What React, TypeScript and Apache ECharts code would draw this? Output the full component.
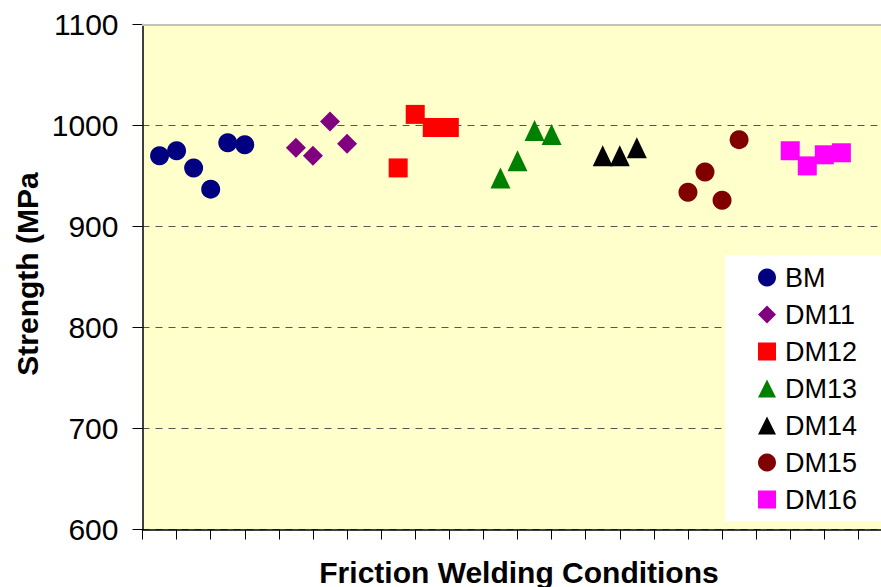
import React, { useEffect, useRef } from "react";
import * as echarts from "echarts";

const seriesNames = ["BM", "DM11", "DM12", "DM13", "DM14", "DM15", "DM16"];
const bmX = [1, 2, 3, 4, 5, 6];
const bmY = [970, 975, 958, 937, 983, 981];
const dm11X = [9, 10, 11, 12];
const dm11Y = [978, 970, 1004, 982];
const dm12X = [15, 16, 17, 18];
const dm12Y = [958, 1011, 998, 998];
const dm13X = [21, 22, 23, 24];
const dm13Y = [948, 965, 995, 991];
const dm14X = [27, 28, 29];
const dm14Y = [970, 970, 978];
const dm15X = [32, 33, 34, 35];
const dm15Y = [934, 954, 926, 986];
const dm16X = [38, 39, 40, 41];
const dm16Y = [975, 960, 971, 973];
const yTicks = [600, 700, 800, 900, 1000, 1100];

const colors = ["#000080", "#800080", "#FF0000", "#008000", "#000000", "#800000", "#FF00FF"];
const symbols = ["circle", "diamond", "rect", "triangle", "triangle", "circle", "rect"];
const sizes: any[] = [19, 20, 19, [20, 21], [20, 21], 19, 19];

const FONT = "'Liberation Sans', Arial, sans-serif";

export default function App() {
  const ref = useRef<HTMLDivElement>(null);
  useEffect(() => {
    if (!ref.current) return;
    const chart = echarts.init(ref.current, null, { renderer: "svg" });
    const xs = [bmX, dm11X, dm12X, dm13X, dm14X, dm15X, dm16X];
    const ys = [bmY, dm11Y, dm12Y, dm13Y, dm14Y, dm15Y, dm16Y];
    const series = seriesNames.map((name, i) => ({
      name,
      type: "scatter",
      symbol: symbols[i],
      symbolSize: sizes[i],
      itemStyle: { color: colors[i], opacity: 1 },
      data: xs[i].map((x, j) => [x, ys[i][j]]),
      xAxisIndex: 0,
      yAxisIndex: 0,
      z: 3,
    }));
    chart.setOption({
      animation: false,
      backgroundColor: "#ffffff",
      textStyle: { fontFamily: FONT },
      grid: {
        left: 142.5,
        top: 24.5,
        width: 750,
        height: 505,
        show: true,
        backgroundColor: "#FFFFCC",
        borderWidth: 0,
      },
      xAxis: [
        {
          type: "value",
          min: 0,
          max: 44,
          interval: 2,
          position: "bottom",
          axisLine: { show: true, lineStyle: { color: "#000", width: 1.5 } },
          axisTick: { show: true, inside: false, length: 10, lineStyle: { color: "#000", width: 1 } },
          axisLabel: { show: false },
          splitLine: { show: false },
          z: 4,
        },
        {
          type: "value",
          min: 0,
          max: 44,
          position: "top",
          axisLine: { show: true, onZero: false, lineStyle: { color: "#c0c0c0", width: 2 } },
          axisTick: { show: false },
          axisLabel: { show: false },
          splitLine: { show: false },
          z: 5,
        },
      ],
      yAxis: {
        type: "value",
        min: yTicks[0],
        max: yTicks[yTicks.length - 1],
        interval: 100,
        axisLine: { show: true, lineStyle: { color: "#000", width: 1.5 } },
        axisTick: { show: true, inside: false, length: 10, lineStyle: { color: "#000", width: 1 } },
        axisLabel: {
          show: true,
          color: "#000",
          fontSize: 30,
          fontFamily: FONT,
          margin: 24,
          formatter: (v: number) => String(v),
        },
        splitLine: { show: true, lineStyle: { color: "#555", width: 1, type: [7, 6] } },
        z: 2,
      },
      legend: {
        orient: "vertical",
        left: 725,
        top: 255,
        backgroundColor: "#ffffff",
        padding: [9, 300, 8, 33],
        itemWidth: 18,
        itemHeight: 18,
        itemGap: 10,
        data: seriesNames,
        textStyle: { color: "#000", fontSize: 27, lineHeight: 26, fontFamily: FONT, padding: [0, 0, 0, 4] },
        z: 6,
      },
      graphic: [
        {
          type: "text",
          x: 519,
          y: 572,
          style: {
            text: "Friction Welding Conditions",
            font: `bold 30px ${FONT}`,
            fill: "#000",
            align: "center",
            verticalAlign: "middle",
          },
        },
        {
          type: "text",
          x: 27,
          y: 274,
          rotation: Math.PI / 2,
          style: {
            text: "Strength (MPa",
            font: `bold 30px ${FONT}`,
            fill: "#000",
            align: "center",
            verticalAlign: "middle",
          },
        },
      ],
      series,
    });
    return () => chart.dispose();
  }, []);
  return (
    <div style={{ position: "fixed", left: 0, top: 0, width: 881, height: 587, overflow: "hidden", background: "#fff" }}>
      <div ref={ref} style={{ width: 960, height: 587 }} />
    </div>
  );
}
